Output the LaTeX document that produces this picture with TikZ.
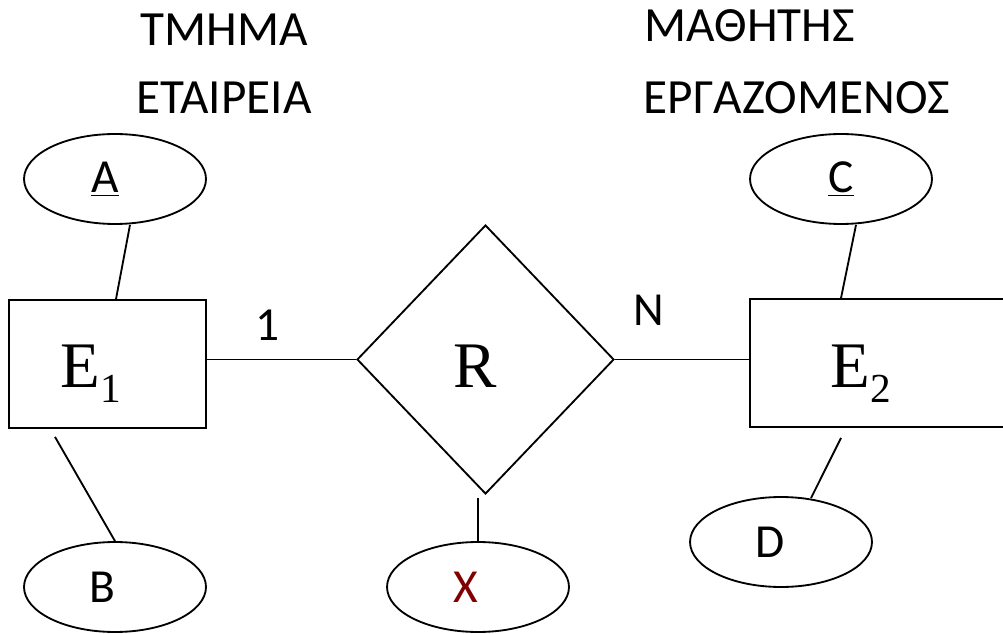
\documentclass[tikz,border=0pt]{standalone}
\usepackage{fontspec}
\setmainfont{Carlito}
\newfontfamily\serifE{Liberation Serif}
\usetikzlibrary{shapes.geometric}
\definecolor{xred}{RGB}{128,0,0}
\newcommand{\entname}[2]{{\serifE\fontsize{37}{37}\selectfont #1\raisebox{-8.5pt}{\fontsize{23.5}{23.5}\selectfont #2}}}

\begin{document}
\begin{tikzpicture}[x=0.02cm,y=-0.02cm,line width=1.05pt,
  attr/.style={draw,ellipse,minimum width=3.64cm,minimum height=1.8cm,inner sep=0pt,font=\fontsize{27}{27}\selectfont},
  ent/.style={draw,rectangle,minimum height=2.56cm,inner sep=0pt},
  rel/.style={draw,diamond,minimum width=5.14cm,minimum height=5.38cm,inner sep=0pt},
  lbl/.style={font=\fontsize{27}{27}\selectfont,inner sep=0pt},
  title/.style={font=\fontsize{28}{28}\selectfont,inner sep=0pt}]
\clip (0,0) rectangle (1003,634);
% titles
\node[title] (t1) at (224,30) {ΤΜΗΜΑ};
\node[title] (t2) at (224,98) {ΕΤΑΙΡΕΙΑ};
\node[title] (t3) at (750,26) {ΜΑΘΗΤΗΣ};
\node[title] (t4) at (797,98) {ΕΡΓΑΖΟΜΕΝΟΣ};
% entities and relationship
\node[ent,minimum width=3.94cm] (E1) at (107.5,364) {};
\node[ent,minimum width=5.4cm] (E2) at (885,363) {};
\node[rel] (R) at (485.5,359.5) {};
\node[anchor=base west,inner sep=0pt] (E1t) at (60,388) {\entname{E}{1}};
\node[anchor=base west,inner sep=0pt] (E2t) at (830,388) {\entname{E}{2}};
\node[anchor=base west,inner sep=0pt] (Rt) at (453,388) {{\serifE\fontsize{37}{37}\selectfont R}};
% attributes
\node[attr] (A) at (115,179) {\underline{A}\hspace*{0.4cm}};
\node[attr] (B) at (115,587) {B\hspace*{0.5cm}};
\node[attr,text=xred] (X) at (478,587) {X\hspace*{0.5cm}};
\node[attr] (C) at (841,179) {\underline{C}};
\node[attr] (D) at (781,542) {D\hspace*{0.44cm}};
% connectors
\draw (R.west -| E1.east) -- (R.west);
\draw (R.east) -- (R.east -| E2.west);
\node[lbl] (one) at (268,325) {1};
\node[lbl] (many) at (649,310) {N};
\draw ([xshift=0.3cm]A.south) -- ([xshift=0.17cm]E1.north);
\draw ([shift={(-52.5,8)}]E1.south) -- (B.north);
\draw ([shift={(-7.5,3)}]R.south) -- (X.north);
\draw ([xshift=0.3cm]C.south) -- (C.south |- E2.north);
\draw ([shift={(-44,10)}]E2.south) -- ([shift={(30,2)}]D.north);
\end{tikzpicture}
\end{document}
